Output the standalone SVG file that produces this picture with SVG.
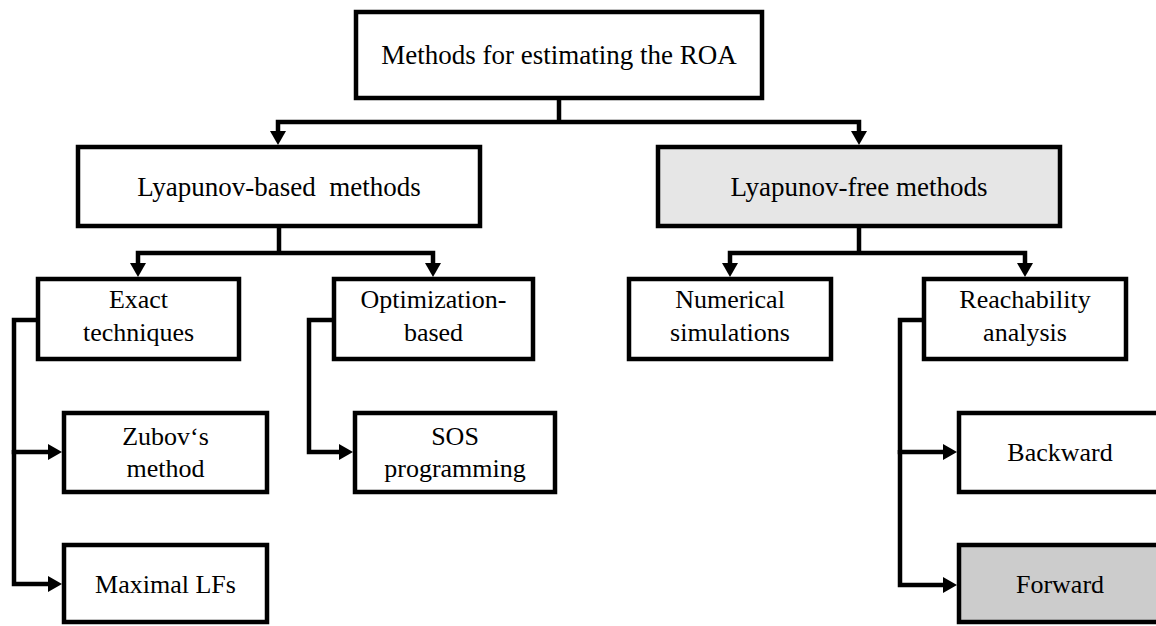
<svg xmlns="http://www.w3.org/2000/svg" width="1156" height="626" viewBox="0 0 1156 626">
  <style>
    .box { fill: #ffffff; stroke: #000000; stroke-width: 4.5; }
    .light { fill: #e6e6e6; }
    .mid { fill: #cccccc; }
    .lbl { font-family: "Liberation Serif", "Times New Roman", serif; font-size: 26px; fill: #000000; text-anchor: middle; }
    .big { font-size: 27px; }
    .wire { fill: none; stroke: #000000; stroke-width: 4.5; stroke-linejoin: miter; }
  </style>
  <defs>
    <marker id="head" viewBox="0 0 14 16" refX="0" refY="8" markerWidth="14" markerHeight="16" markerUnits="userSpaceOnUse" orient="auto">
      <path d="M0,0 L14,8 L0,16 z" fill="#000000"/>
    </marker>
  </defs>

  <!-- connectors -->
  <g id="connectors">
    <path class="wire" d="M559,98 V122"/>
    <path class="wire" d="M559,122 H278 V131" marker-end="url(#head)"/>
    <path class="wire" d="M559,122 H859 V131" marker-end="url(#head)"/>

    <path class="wire" d="M279,226 V253"/>
    <path class="wire" d="M279,253 H138 V263" marker-end="url(#head)"/>
    <path class="wire" d="M279,253 H433 V263" marker-end="url(#head)"/>

    <path class="wire" d="M859,226 V253"/>
    <path class="wire" d="M859,253 H730 V263" marker-end="url(#head)"/>
    <path class="wire" d="M859,253 H1025 V263" marker-end="url(#head)"/>

    <path class="wire" d="M38,320 H14 V452 H48" marker-end="url(#head)"/>
    <path class="wire" d="M14,450 V584 H48" marker-end="url(#head)"/>

    <path class="wire" d="M334,320 H309 V452 H339" marker-end="url(#head)"/>

    <path class="wire" d="M924,320 H900 V452 H943" marker-end="url(#head)"/>
    <path class="wire" d="M900,450 V585 H943" marker-end="url(#head)"/>
  </g>

  <g id="roa-methods">
    <rect class="box" x="356" y="12" width="406" height="86"/>
    <text class="lbl big" x="559" y="64">Methods for estimating the ROA</text>
  </g>

  <g id="lyapunov-based">
    <rect class="box" x="78" y="147" width="402" height="79"/>
    <text class="lbl big" x="279" y="196" xml:space="preserve">Lyapunov-based  methods</text>
  </g>

  <g id="lyapunov-free">
    <rect class="box light" x="658" y="147" width="402" height="79"/>
    <text class="lbl big" x="859" y="196">Lyapunov-free methods</text>
  </g>

  <g id="exact">
    <rect class="box" x="38" y="279" width="201" height="80"/>
    <text class="lbl" x="138.5" y="308">Exact</text>
    <text class="lbl" x="138.5" y="341">techniques</text>
  </g>

  <g id="optimization">
    <rect class="box" x="334" y="279" width="199" height="80"/>
    <text class="lbl" x="433.5" y="308">Optimization-</text>
    <text class="lbl" x="433.5" y="341">based</text>
  </g>

  <g id="numerical">
    <rect class="box" x="629" y="279" width="202" height="80"/>
    <text class="lbl" x="730" y="308">Numerical</text>
    <text class="lbl" x="730" y="341">simulations</text>
  </g>

  <g id="reachability">
    <rect class="box" x="924" y="279" width="202" height="80"/>
    <text class="lbl" x="1025" y="308">Reachability</text>
    <text class="lbl" x="1025" y="341">analysis</text>
  </g>

  <g id="zubov">
    <rect class="box" x="64" y="413" width="203" height="79"/>
    <text class="lbl" x="165.5" y="445">Zubov‘s</text>
    <text class="lbl" x="165.5" y="477">method</text>
  </g>

  <g id="sos">
    <rect class="box" x="355" y="413" width="200" height="79"/>
    <text class="lbl" x="455" y="445">SOS</text>
    <text class="lbl" x="455" y="477">programming</text>
  </g>

  <g id="maximal-lfs">
    <rect class="box" x="64" y="545" width="203" height="77"/>
    <text class="lbl" x="165.5" y="593">Maximal LFs</text>
  </g>

  <g id="backward">
    <rect class="box" x="959" y="413" width="204" height="79"/>
    <text class="lbl" x="1060" y="461">Backward</text>
  </g>

  <g id="forward">
    <rect class="box mid" x="959" y="545" width="204" height="77"/>
    <text class="lbl" x="1060" y="593">Forward</text>
  </g>
</svg>
